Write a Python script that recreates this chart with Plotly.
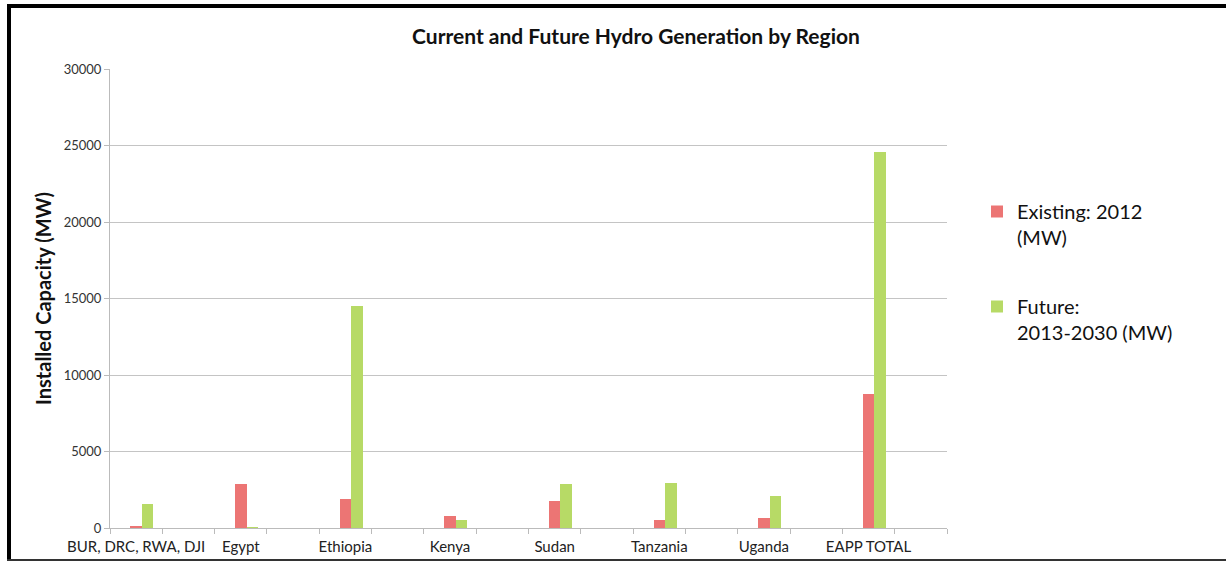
import plotly.graph_objects as go

# ---- data ----
regions = ["BUR, DRC, RWA, DJI", "Egypt", "Ethiopia", "Kenya", "Sudan",
           "Tanzania", "Uganda", "EAPP TOTAL"]
existing_2012 = [150, 2870, 1880, 800, 1750, 550, 680, 8780]
future_2013_2030 = [1550, 50, 14500, 530, 2880, 2920, 2110, 24560]
y_ticks = [0, 5000, 10000, 15000, 20000, 25000, 30000]

# ---- layout geometry (pixels) ----
W, H = 1226, 561
L, R, T, B = 110, 947, 69, 528

def px(x):
    return (x - L) / (R - L)

def py(y):
    return (B - y) / (B - T)

# each labelled region occupies every other category slot (Excel skipped labels)
xpos = [2 * i for i in range(len(regions))]
bw = 0.22

fig = go.Figure()
fig.add_trace(go.Bar(
    x=xpos, y=existing_2012, name="Existing: 2012<br>(MW)",
    width=bw, offset=-bw / 2, legendgroup="a",
    marker=dict(color="#EC7574", line=dict(width=0)),
))
fig.add_trace(go.Bar(
    x=xpos, y=future_2013_2030, name="Future:<br>2013-2030 (MW)",
    width=bw, offset=bw / 2, legendgroup="b",
    marker=dict(color="#B7DA66", line=dict(width=0)),
))

font_family = "Lato, 'Open Sans', sans-serif"

fig.update_layout(
    width=W, height=H,
    margin=dict(l=L, r=W - R, t=T, b=H - B, pad=0, autoexpand=False),
    paper_bgcolor="white", plot_bgcolor="white",
    barmode="overlay",
    font=dict(family=font_family, color="#222222"),
    title=dict(text="<b>Current and Future Hydro Generation by Region</b>",
               x=px(636), xref="paper", xanchor="center",
               y=1 - 37 / H, yref="container", yanchor="middle",
               font=dict(size=21, color="#111111", family=font_family)),
    legend=dict(x=px(977), y=py(192), xanchor="left", yanchor="top",
                xref="paper", yref="paper",
                font=dict(size=20, color="#111111", family=font_family),
                valign="top", tracegroupgap=40, itemwidth=30,
                bgcolor="rgba(0,0,0,0)"),
    showlegend=True,
    bargap=0,
)

fig.update_xaxes(
    range=[-0.5, 15.5], automargin=False,
    tickmode="array", tickvals=xpos, ticktext=regions,
    ticks="", showgrid=False,
    showline=True, linecolor="#BBBBBB", linewidth=1,
    tickfont=dict(size=15, color="#222222"),
    ticklabelstandoff=5,
    minor=dict(tick0=-0.5, dtick=1, ticks="outside", ticklen=5,
               tickcolor="#BBBBBB", showgrid=False),
    zeroline=False, fixedrange=True,
)
fig.update_yaxes(
    range=[0, 30000], automargin=False, tickmode="array", tickvals=y_ticks,
    ticktext=[str(v) for v in y_ticks],
    ticks="outside", ticklen=5, tickcolor="#BBBBBB",
    showgrid=True, gridcolor="#C4C4C4", gridwidth=1,
    showline=True, linecolor="#BBBBBB", linewidth=1,
    zeroline=False,
    tickfont=dict(size=13, color="#333333"),
    title=dict(text="<b>Installed Capacity (MW)</b>", standoff=6,
               font=dict(size=20, color="#111111")),
)

# outer frame (black lines at top, left and bottom of the picture)
fig.add_shape(type="line", xref="paper", yref="paper",
              x0=px(7), x1=px(W), y0=py(6), y1=py(6),
              line=dict(color="black", width=4))
fig.add_shape(type="line", xref="paper", yref="paper",
              x0=px(9), x1=px(9), y0=py(6), y1=py(H),
              line=dict(color="black", width=4))
fig.add_shape(type="line", xref="paper", yref="paper",
              x0=px(7), x1=px(W), y0=py(560), y1=py(560),
              line=dict(color="#333333", width=2))

fig.write_html("out.html", config={"displayModeBar": False},
               post_script="document.body.style.margin='0px';")
